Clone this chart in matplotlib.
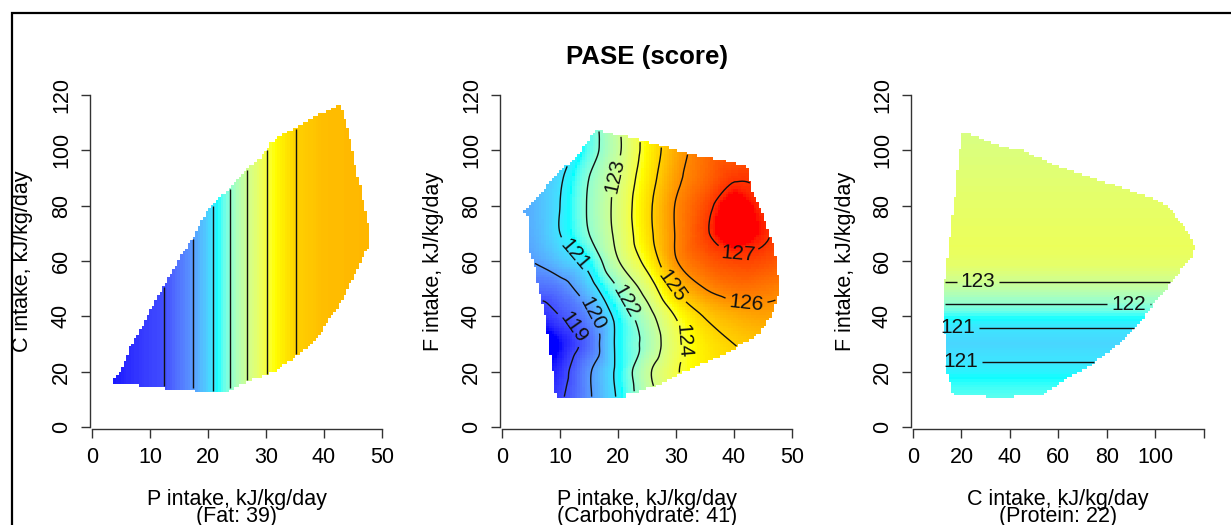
import numpy as np
import matplotlib
matplotlib.use("Agg")
import matplotlib.pyplot as plt
from matplotlib.colors import ListedColormap, Normalize
from matplotlib.path import Path
from matplotlib.lines import Line2D
import matplotlib.tri as mtri

plt.rcParams['font.family'] = ['Liberation Sans', 'DejaVu Sans']

# ------------------------------------------------------------------ data
title = "PASE (score)"
score_min, score_max = 118.4, 127.2

# Panel 1: protein (P) x carbohydrate (C), fat held at 39
p1_hull_P = [3.7, 4.9, 6.6, 8.9, 11.2, 13.5, 15.5, 17.5, 19.5, 22.1, 24.4, 26.7,
             29.0, 30.7, 31.9, 35.0, 38.2, 40.5, 42.8, 43.6, 44.2, 44.8, 45.7,
             46.3, 47.2, 47.8, 47.8, 46.9, 45.7, 44.2, 42.8, 41.1, 39.4, 37.7,
             36.2, 33.6, 31.4, 27.9, 24.5, 23.3, 17.6, 17.6, 12.4, 12.4, 8.1,
             8.1, 3.7]
p1_hull_C = [17.1, 20.4, 28.8, 37.3, 46.9, 54.7, 62.6, 68.6, 77.0, 83.1, 87.9,
             93.3, 96.9, 102.3, 104.7, 108.3, 111.9, 114.3, 116.5, 111.9, 107.1,
             101.1, 91.5, 86.7, 77.0, 72.2, 65.6, 62.6, 56.5, 50.5, 44.5, 39.7,
             33.6, 30.0, 27.0, 23.4, 19.8, 17.4, 14.4, 12.5, 12.5, 13.8, 13.8,
             15.0, 15.0, 15.9, 15.9]
p1_profile_P = [3.7, 8.0, 12.5, 17.5, 20.8, 23.8, 26.8, 30.2, 35.1, 40.0, 47.8]
p1_profile_score = [118.5, 118.75, 119.0, 120.0, 121.0, 122.0, 123.0, 124.0,
                    125.0, 125.3, 125.4]
p1_levels = [119, 120, 121, 122, 123, 124, 125]

# Panel 2: protein (P) x fat (F), carbohydrate held at 41
p2_grid_P = [0, 5, 10, 15, 20, 25, 30, 35, 40, 45, 50]
p2_grid_F = [0, 10, 20, 30, 40, 50, 60, 70, 80, 90, 100, 110]
p2_score = [
    [118.5, 118.6, 119.0, 120.0, 121.1, 122.5, 123.7, 124.3, 124.6, 124.8, 124.8],
    [118.4, 118.5, 118.9, 119.9, 121.1, 122.6, 123.8, 124.4, 124.7, 124.9, 124.9],
    [118.3, 118.35, 118.7, 119.9, 121.2, 122.8, 123.9, 124.5, 124.8, 125.0, 125.0],
    [118.3, 118.4, 118.45, 119.4, 121.2, 122.3, 123.7, 124.6, 125.0, 125.2, 125.2],
    [118.0, 118.5, 119.0, 119.8, 121.3, 122.6, 124.05, 125.05, 125.5, 125.7, 125.6],
    [118.8, 119.3, 119.6, 120.6, 122.0, 123.4, 125.1, 126.0, 126.35, 126.3, 126.0],
    [119.8, 120.0, 120.55, 121.3, 122.95, 124.3, 125.95, 126.6, 126.85, 126.8, 126.5],
    [120.0, 120.25, 121.0, 122.0, 123.25, 124.7, 126.05, 126.9, 127.45, 127.1, 126.6],
    [120.0, 120.3, 121.0, 122.1, 123.3, 124.75, 126.05, 126.8, 127.35, 127.0, 126.6],
    [120.0, 120.3, 120.9, 122.0, 123.15, 124.55, 125.8, 126.5, 126.95, 126.9, 126.6],
    [119.8, 120.1, 120.6, 121.6, 122.85, 124.35, 125.6, 126.4, 126.6, 126.6, 126.5],
    [119.8, 120.1, 120.6, 121.6, 122.9, 124.4, 125.6, 126.3, 126.5, 126.5, 126.4],
]
p2_hull_P = [3.7, 4.4, 4.6, 5.6, 6.0, 6.9, 7.8, 8.1, 8.7, 9.0, 9.3, 10.1, 21.3,
             21.6, 23.3, 27.3, 28.5, 34.8, 38.8, 41.1, 44.5, 46.3, 47.5, 47.8,
             47.5, 46.9, 45.7, 44.5, 42.8, 42.5, 37.9, 33.0, 28.5, 23.8, 21.0,
             18.7, 16.4, 15.3, 13.0, 10.1, 8.1, 6.6, 4.6]
p2_hull_F = [77.2, 76.0, 64.0, 59.2, 53.2, 45.9, 36.3, 29.1, 21.9, 14.7, 11.1,
             10.5, 10.5, 12.3, 12.9, 15.3, 17.1, 23.1, 26.7, 29.7, 33.9, 39.9,
             45.9, 51.9, 56.7, 65.2, 72.4, 79.6, 86.9, 94.1, 96.5, 98.3, 101.1,
             103.7, 105.2, 106.1, 107.3, 104.9, 97.7, 92.9, 88.0, 84.4, 79.6]
p2_levels = [119, 120, 121, 122, 123, 124, 125, 126, 127]

# Panel 3: carbohydrate (C) x fat (F), protein held at 22
p3_hull_C = [20.2, 25.0, 29.2, 36.7, 45.0, 52.6, 60.8, 72.5, 84.2, 91.8, 100.7,
             105.5, 109.7, 113.8, 116.6, 114.5, 111.8, 106.9, 102.1, 98.0, 93.9,
             87.0, 80.1, 71.8, 66.3, 60.8, 56.7, 53.9, 41.5, 41.5, 29.8, 29.8,
             16.4, 15.1, 14.0, 13.7, 12.6, 12.6, 13.7, 15.1, 16.4, 17.8, 18.7]
p3_hull_F = [106.1, 105.5, 103.7, 101.3, 100.1, 97.1, 93.9, 90.3, 87.1, 84.7,
             82.1, 79.6, 74.8, 70.0, 65.2, 60.4, 58.0, 52.6, 47.2, 43.0, 37.5,
             31.5, 26.7, 21.3, 18.9, 15.9, 13.5, 11.7, 11.7, 10.5, 10.5, 11.7,
             11.7, 16.5, 19.5, 32.7, 33.3, 49.0, 58.0, 67.6, 77.8, 86.9, 96.5]
p3_profile_F = [10.5, 17.0, 23.5, 30.0, 36.0, 40.0, 44.4, 48.5, 52.5, 58.0,
                65.0, 80.0, 95.0, 106.1]
p3_profile_score = [121.6, 121.35, 121.0, 120.8, 121.0, 121.4, 122.0, 122.5,
                    123.0, 123.5, 123.7, 123.55, 123.35, 123.2]
p3_levels = [121, 122, 123]

x_labels = ["P intake, kJ/kg/day\n(Fat: 39)",
            "P intake, kJ/kg/day\n(Carbohydrate: 41)",
            "C intake, kJ/kg/day\n(Protein: 22)"]
y_labels = ["C intake, kJ/kg/day", "F intake, kJ/kg/day", "F intake, kJ/kg/day"]


# ------------------------------------------------------------ colour ramp
_M = np.array([[0.4124564, 0.3575761, 0.1804375],
               [0.2126729, 0.7151522, 0.0721750],
               [0.0193339, 0.1191920, 0.9503041]])
_WHITE = np.array([0.95047, 1.0, 1.08883])


def srgb_to_lab(rgb):
    rgb = np.asarray(rgb, float)
    lin = np.where(rgb <= 0.04045, rgb / 12.92, ((rgb + 0.055) / 1.055) ** 2.4)
    t = (lin @ _M.T) / _WHITE
    d = 6 / 29
    f = np.where(t > d ** 3, np.cbrt(t), t / (3 * d * d) + 4 / 29)
    return np.stack([116 * f[..., 1] - 16,
                     500 * (f[..., 0] - f[..., 1]),
                     200 * (f[..., 1] - f[..., 2])], -1)


def lab_to_srgb(lab):
    fy = (lab[..., 0] + 16) / 116
    fx = fy + lab[..., 1] / 500
    fz = fy - lab[..., 2] / 200
    d = 6 / 29

    def finv(f):
        return np.where(f > d, f ** 3, 3 * d * d * (f - 4 / 29))

    xyz = np.stack([finv(fx), finv(fy), finv(fz)], -1) * _WHITE
    lin = np.clip(xyz @ np.linalg.inv(_M).T, 0, 1)
    rgb = np.where(lin <= 0.0031308, 12.92 * lin, 1.055 * lin ** (1 / 2.4) - 0.055)
    return np.clip(rgb, 0, 1)


def lab_ramp(anchors, n=256):
    lab = srgb_to_lab(np.array(anchors))
    pos = np.linspace(0, 1, len(anchors))
    t = np.linspace(0, 1, n)
    out = np.stack([np.interp(t, pos, lab[:, k]) for k in range(3)], -1)
    return ListedColormap(lab_to_srgb(out))


cmap = lab_ramp([(0, 0, 1), (0, 1, 1), (1, 1, 0), (1, 0, 0)])
norm = Normalize(score_min, score_max)


# ------------------------------------------------------------ helpers
def cell_grid(hx, hy, n=100):
    xe = np.linspace(min(hx), max(hx), n + 1)
    ye = np.linspace(min(hy), max(hy), n + 1)
    xc = 0.5 * (xe[:-1] + xe[1:])
    yc = 0.5 * (ye[:-1] + ye[1:])
    X, Y = np.meshgrid(xc, yc)
    inside = Path(np.column_stack([hx, hy])).contains_points(
        np.column_stack([X.ravel(), Y.ravel()])).reshape(X.shape)
    return xe, ye, xc, yc, X, Y, inside


def draw_surface(ax, xe, ye, xc, yc, Z, inside, levels, manual=None):
    Zm = np.ma.masked_where(~inside, Z)
    ax.pcolormesh(xe, ye, Zm, cmap=cmap, norm=norm, shading='flat',
                  antialiased=False, edgecolors='none', rasterized=True)
    cs = ax.contour(xc, yc, Zm, levels=levels, colors='#111111',
                    linewidths=1.0)
    if manual is not None:
        ax.clabel(cs, inline=True, fmt='%d', fontsize=15,
                  manual=manual, inline_spacing=4)
    return cs


W, H = 1231, 525
fig = plt.figure(figsize=(W / 100, H / 100), dpi=100)


def px_axes(left, right, top, bottom):
    return fig.add_axes([left / W, 1 - bottom / H, (right - left) / W,
                         (bottom - top) / H])


def style_axes(ax, xmax, xstep, xlabels=None):
    for side in ('top', 'right'):
        ax.spines[side].set_visible(False)
    for side in ('left', 'bottom'):
        ax.spines[side].set_color('#333333')
        ax.spines[side].set_linewidth(1.0)
    ax.spines['left'].set_bounds(0, 120)
    ax.spines['bottom'].set_bounds(0, xmax)
    xt = np.arange(0, xmax + 1, xstep)
    ax.set_xticks(xt)
    if xlabels is not None:
        ax.set_xticklabels(xlabels)
    ax.set_yticks(np.arange(0, 121, 20))
    ax.tick_params(direction='out', length=6.5, width=1.0, color='#333333',
                   labelsize=15.5, pad=6.5)
    ax.tick_params(axis='y', labelrotation=90)
    for lbl in ax.get_yticklabels():
        lbl.set_va('center')
    ax.set_facecolor('none')


# ------------------------------------------------------------ panel 1
ax1 = px_axes(90, 384, 93, 429)
ax1.set_xlim(-0.345, 50.345)
ax1.set_ylim(-0.72, 120.72)
xe, ye, xc, yc, X, Y, inside = cell_grid(p1_hull_P, p1_hull_C)
Z1 = np.interp(X, p1_profile_P, p1_profile_score)
draw_surface(ax1, xe, ye, xc, yc, Z1, inside, p1_levels)
style_axes(ax1, 50, 10)

# ------------------------------------------------------------ panel 2
ax2 = px_axes(500, 794, 93, 429)
ax2.set_xlim(-0.345, 50.345)
ax2.set_ylim(-0.72, 120.72)
GP, GF = np.meshgrid(p2_grid_P, p2_grid_F)
tri = mtri.Triangulation(GP.ravel().astype(float), GF.ravel().astype(float))
interp = mtri.CubicTriInterpolator(tri, np.asarray(p2_score).ravel(), kind='geom')
xe, ye, xc, yc, X, Y, inside = cell_grid(p2_hull_P, p2_hull_F)
Z2 = np.asarray(interp(X, Y).filled(np.nan))
draw_surface(ax2, xe, ye, xc, yc, Z2, inside, p2_levels,
             manual=[(11.8, 35.0), (15.5, 41.0), (12.6, 62.7), (21.0, 45.0),
                     (20.1, 90.4), (31.0, 30.9), (29.0, 50.6), (42.2, 45.9),
                     (40.5, 63.9)])
style_axes(ax2, 50, 10)

# ------------------------------------------------------------ panel 3
ax3 = px_axes(911, 1205.6, 93, 429)
ax3.set_xlim(-0.83, 120.83)
ax3.set_ylim(-0.72, 120.72)
xe, ye, xc, yc, X, Y, inside = cell_grid(p3_hull_C, p3_hull_F)
Z3 = np.interp(Y, p3_profile_F, p3_profile_score)
draw_surface(ax3, xe, ye, xc, yc, Z3, inside, p3_levels,
             manual=[(26.8, 52.5), (89.0, 44.4), (18.6, 36.0), (19.6, 23.5)])
style_axes(ax3, 120, 20, ['0', '20', '40', '60', '80', '100', ''])

# ------------------------------------------------------------ text
def ftext(x, y, s, **kw):
    fig.text(x / W, 1 - y / H, s, **kw)


ftext(647, 64, title, ha='center', va='baseline', fontsize=18.6,
      fontweight='bold')
for cx, lab in zip([237, 647, 1058], x_labels):
    ftext(cx, 522, lab, ha='center', va='baseline', fontsize=15.5,
          linespacing=0.74, multialignment='center')
for cx, lab in zip([23, 433, 845], y_labels):
    ftext(cx, 261, lab, ha='center', va='center', rotation=90, fontsize=15.5)

# outer frame
fig.add_artist(Line2D([12 / W, 12 / W, 1.01], [-0.01, 1 - 13 / H, 1 - 13 / H],
                      transform=fig.transFigure, color='black', lw=1.6,
                      solid_joinstyle='miter'))

fig.savefig("out.png", dpi=100)
